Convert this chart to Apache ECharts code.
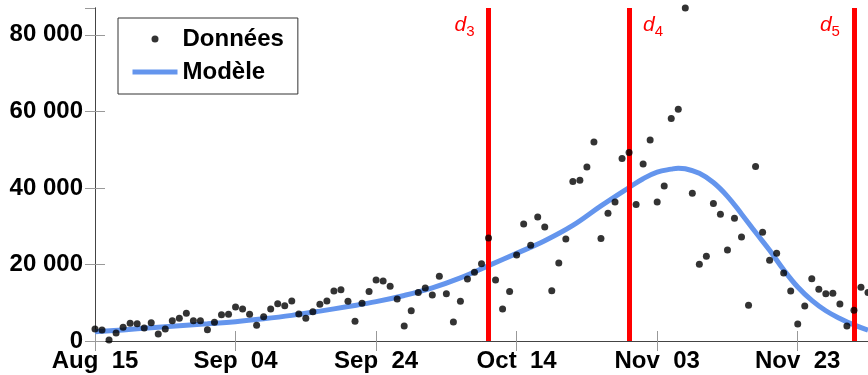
<!DOCTYPE html>
<html>
<head>
<meta charset="utf-8">
<script src="https://cdn.jsdelivr.net/npm/echarts@6/dist/echarts.min.js"></script>
<style>html,body{margin:0;padding:0;background:#fff}#c{width:868px;height:375px}</style>
</head>
<body>
<div id="c"></div>
<script>
// Daily observations, day 0 = Aug 15
const observed = [
  3140, 2880, 260, 2090, 3570, 4620, 4530, 3400, 4790, 1830,
  3140, 5310, 5920, 7230, 5310, 5310, 2960, 4880, 6880, 6970,
  8890, 8360, 6970, 4100, 6360, 8360, 9760, 9240, 10460, 7060,
  5920, 7670, 9580, 10460, 13070, 13420, 10370, 5140, 9850, 12900,
  15950, 15690, 14290, 10980, 3920, 7930, 12640, 13850, 12020, 16900,
  12370, 4970, 10370, 16210, 17960, 20210, 26920, 15950, 8360, 12900,
  22480, 30580, 25010, 32410, 29800, 13150, 20390, 26660, 41640, 42000,
  45480, 52020, 26750, 33380, 36330, 47660, 49230, 35640, 46270, 52540,
  36330, 40520, 58110, 60570, 87000, 38610, 20040, 22130, 35900, 33110,
  23790, 32060, 27190, 9330, 45570, 28410, 21090, 22920, 17780, 13070,
  4440, 9150, 16290, 13510, 12370, 12460, 9670, 3920, 8020, 14030,
  12640
];
// Model curve
const modelDays   = [0, 4, 8, 12, 16, 20, 24, 28, 32, 36, 40, 44, 48, 52, 56, 60, 64, 68, 72, 76, 78, 80, 82, 83, 84, 86, 88, 90, 92, 94, 96, 98, 100, 102, 104, 106, 108, 110];
const modelValues = [2400, 2900, 3450, 4000, 4500, 5050, 5800, 6700, 7800, 9000, 10280, 11900, 13900, 16500, 19700, 22900, 26200, 30200, 35300, 40100, 42400, 44100, 44900, 45150, 45000, 43800, 41400, 37800, 33200, 28400, 23700, 18600, 14100, 10600, 7900, 5900, 4200, 2850];
// Vertical markers
const markerDays  = [56, 76, 108];
const markerNames = ['3', '4', '5'];
const markerSide  = ['left', 'right', 'left'];
// Tick labels
const xTickLabels = ['Aug  15', 'Sep  04', 'Sep  24', 'Oct  14', 'Nov  03', 'Nov  23'];
const yTickLabels = ['0', '20 000', '40 000', '60 000', '80 000'];

const FONT = 'Liberation Sans';
const BLUE = '#6495ED';
const chart = echarts.init(document.getElementById('c'));

const frame = { show: true, lineStyle: { color: '#444', width: 1 } };
const ticks = { show: true, inside: true, length: 10, lineStyle: { color: '#999', width: 1 } };

const markData = markerDays.map((d, i) => ({
  xAxis: d,
  label: {
    show: true,
    position: 'end',
    formatter: '{d|d}{s|' + markerNames[i] + '}',
    offset: [markerSide[i] === 'left' ? -24 : 24, 36],
    rich: {
      d: { fontFamily: FONT, fontStyle: 'italic', fontSize: 21, color: '#ff0000', lineHeight: 24, verticalAlign: 'top' },
      s: { fontFamily: FONT, fontSize: 15, color: '#ff0000', lineHeight: 14, verticalAlign: 'bottom' }
    }
  }
}));

chart.setOption({
  animation: false,
  backgroundColor: '#fff',
  grid: { left: 95, top: 8, right: 0, bottom: 34 },
  legend: {
    orient: 'vertical',
    left: 118, top: 18,
    padding: [9, 14, 10, 12],
    borderColor: '#333', borderWidth: 1,
    itemWidth: 45, itemHeight: 7, itemGap: 9, itemTextGap: 9,
    textStyle: { fontFamily: FONT, fontWeight: 'bold', fontSize: 24, color: '#000' },
    data: [
      { name: 'Données' },
      { name: 'Modèle', itemStyle: { opacity: 0 }, lineStyle: { width: 5, color: BLUE, opacity: 1 } }
    ]
  },
  xAxis: [
    {
      type: 'value', min: 0, max: 110, interval: 20, position: 'bottom',
      axisLine: frame, axisTick: ticks, splitLine: { show: false },
      axisLabel: {
        margin: 8, fontFamily: FONT, fontWeight: 'bold', fontSize: 24, color: '#000',
        showMaxLabel: false,
        formatter: v => (v % 20 === 0 ? xTickLabels[v / 20] || '' : '')
      }
    },
    {
      type: 'value', min: 0, max: 110, interval: 20, position: 'top',
      axisLine: frame, axisTick: ticks, splitLine: { show: false },
      axisLabel: { show: false }
    }
  ],
  yAxis: [
    {
      type: 'value', min: 0, max: 87000, interval: 20000, position: 'left',
      axisLine: frame, axisTick: ticks, splitLine: { show: false },
      axisLabel: {
        margin: 12, fontFamily: FONT, fontWeight: 'bold', fontSize: 24, color: '#000',
        showMaxLabel: false,
        formatter: v => (v % 20000 === 0 ? yTickLabels[v / 20000] || '' : '')
      }
    },
    {
      type: 'value', min: 0, max: 87000, interval: 20000, position: 'right',
      axisLine: frame, axisTick: ticks, splitLine: { show: false },
      axisLabel: { show: false }
    }
  ],
  series: [
    {
      name: 'Modèle', type: 'line', z: 2,
      data: modelDays.map((d, i) => [d, modelValues[i]]),
      smooth: 0.4,
      showSymbol: false, symbol: 'none',
      lineStyle: { color: BLUE, width: 5 },
      itemStyle: { color: BLUE }
    },
    {
      name: 'markers', type: 'line', data: [], z: 4,
      markLine: {
        silent: true, symbol: ['none', 'none'], z: 4,
        lineStyle: { color: '#ff0000', width: 5, type: 'solid' },
        data: markData
      }
    },
    {
      name: 'Données', type: 'scatter', z: 10,
      data: observed.map((v, i) => [i, v]),
      symbol: 'circle', symbolSize: 7,
      itemStyle: { color: '#000' }
    }
  ]
});
</script>
</body>
</html>
